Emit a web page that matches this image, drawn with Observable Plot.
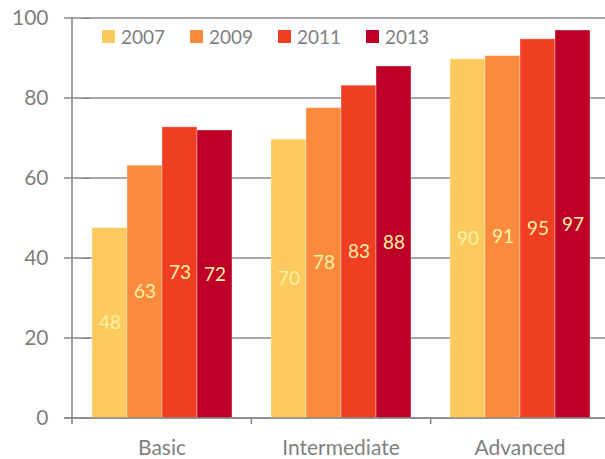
<!DOCTYPE html>
<html>
<head>
<meta charset="utf-8">
<script src="https://cdn.jsdelivr.net/npm/d3@7"></script>
<script src="https://cdn.jsdelivr.net/npm/@observablehq/plot@0.6"></script>
<style>
  html, body { margin: 0; padding: 0; background: #fff; overflow: hidden; }
  #wrap { position: relative; width: 605px; height: 459px; }
  #legend { position: absolute; left: 102px; top: 25px; display: flex; font-family: Lato, sans-serif; font-size: 19px; color: #7f7f7f; }
  #legend .item { display: flex; align-items: center; width: 88px; }
  #legend .sw { width: 13px; height: 13px; margin-right: 6px; }
</style>
</head>
<body>
<div id="wrap"><div id="legend"></div></div>
<script>
const categories = ["Basic", "Intermediate", "Advanced"];
const years = ["2007", "2009", "2011", "2013"];
const basic = [47.6, 63.2, 72.8, 72.0];
const intermediate = [69.7, 77.6, 83.2, 88.0];
const advanced = [89.8, 90.6, 94.8, 97.0];
const yTicks = [0, 20, 40, 60, 80, 100];
const colors = ["#FDCA5D", "#FB8A3C", "#EF3E22", "#BE0028"];

const series = [basic, intermediate, advanced];
const data = [];
categories.forEach((c, i) => years.forEach((yr, j) => data.push({category: c, year: yr, value: series[i][j]})));

const fmt = d3.format(".0f");
const W = 605, H = 459;

const plot = Plot.plot({
  width: W,
  height: H,
  marginTop: 18,
  marginBottom: 41,
  marginLeft: 72,
  marginRight: -5,
  style: {fontFamily: "Lato, sans-serif", fontSize: "21px", color: "#7f7f7f", background: "transparent", overflow: "hidden"},
  facet: {data, x: "category"},
  fx: {domain: categories, paddingInner: 0.2, paddingOuter: 0.1, axis: "bottom", label: null, tickSize: 0, tickPadding: 22},
  x: {domain: years, padding: 0, axis: null},
  y: {domain: [0, 100], ticks: yTicks, tickSize: 8, tickPadding: 34, label: null},
  color: {domain: years, range: colors},
  marks: [
    Plot.barY(data, {x: "year", y: "value", fill: "year", stroke: "#fff", strokeOpacity: 0.35, strokeWidth: 1}),
    Plot.text(data, {x: "year", y: d => d.value / 2, text: d => fmt(d.value), fill: "#FFF2A6", fontSize: 19, fontFamily: "Lato, sans-serif"})
  ]
});

document.getElementById("wrap").prepend(plot);

// chrome: gridlines, axis line, category separators drawn with the plot's own scales
const svg = d3.select(plot.tagName.toLowerCase() === "svg" ? plot : plot.querySelector("svg"));
const ys = plot.scale("y");
const fxs = plot.scale("fx");
const band = d3.scaleBand().domain(fxs.domain).range(fxs.range).paddingInner(fxs.paddingInner).paddingOuter(fxs.paddingOuter).align(fxs.align ?? 0.5);
const x0 = fxs.range[0];
const g = svg.insert("g", ":first-child").attr("stroke", "#898989").attr("stroke-width", 1.6);
yTicks.forEach(t => {
  const yy = ys.apply(t);
  g.append("line").attr("x1", x0 - 8).attr("x2", W).attr("y1", yy).attr("y2", yy);
});
const g2 = svg.append("g").attr("stroke", "#898989").attr("stroke-width", 1.6);
g2.append("line").attr("x1", x0).attr("x2", x0).attr("y1", ys.apply(100)).attr("y2", ys.apply(0) + 6);
g2.append("line").attr("x1", x0 - 8).attr("x2", W).attr("y1", ys.apply(0)).attr("y2", ys.apply(0));
for (let i = 1; i <= categories.length; i++) {
  const sx = x0 + band.step() * i;
  g2.append("line").attr("x1", sx).attr("x2", sx).attr("y1", ys.apply(0)).attr("y2", ys.apply(0) + 6);
}

// legend
const leg = document.getElementById("legend");
years.forEach((yr, j) => {
  const it = document.createElement("div"); it.className = "item";
  const sw = document.createElement("div"); sw.className = "sw"; sw.style.background = plot.scale("color").apply(yr);
  const tx = document.createElement("span"); tx.textContent = yr;
  it.appendChild(sw); it.appendChild(tx); leg.appendChild(it);
});
</script>
</body>
</html>
